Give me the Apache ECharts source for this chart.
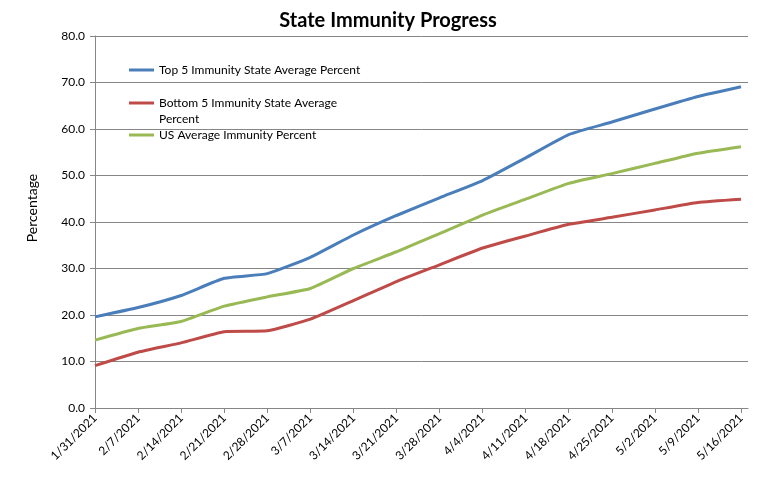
<!DOCTYPE html>
<html>
<head>
<meta charset="utf-8">
<script src="https://cdn.jsdelivr.net/npm/echarts@6/dist/echarts.min.js"></script>
<style>
html,body{margin:0;padding:0;background:#fff;}
#chart{width:770px;height:479px;}
</style>
</head>
<body>
<div id="chart"></div>
<script>
var categories = ['1/31/2021','2/7/2021','2/14/2021','2/21/2021','2/28/2021','3/7/2021','3/14/2021','3/21/2021','3/28/2021','4/4/2021','4/11/2021','4/18/2021','4/25/2021','5/2/2021','5/9/2021','5/16/2021'];
var top5 = [19.6, 21.6, 24.2, 27.9, 28.9, 32.4, 37.2, 41.4, 45.2, 48.9, 53.8, 58.8, 61.5, 64.3, 67.0, 69.1];
var bottom5 = [9.1, 12.0, 14.0, 16.4, 16.6, 19.1, 23.1, 27.2, 30.8, 34.4, 37.0, 39.5, 41.0, 42.6, 44.2, 44.9];
var usAvg = [14.6, 17.1, 18.6, 21.9, 23.9, 25.7, 30.0, 33.6, 37.5, 41.5, 44.9, 48.3, 50.4, 52.6, 54.8, 56.2];
var seriesNames = ['Top 5 Immunity State Average Percent', 'Bottom 5 Immunity State Average Percent', 'US Average Immunity Percent'];

var FONT = 'Lato';
var AXIS_COLOR = '#868686';
var chart = echarts.init(document.getElementById('chart'));
function mkLegend(name, top) {
  return {
    data: [name], left: 129, top: top, orient: 'vertical',
    itemWidth: 25, itemHeight: 3, icon: 'rect',
    textStyle: {fontFamily: FONT, fontSize: 12, color: '#000', lineHeight: 16},
    padding: 0
  };
}
var legend2 = mkLegend(seriesNames[1], 95);
legend2.itemHeight = 32;
legend2.icon = 'path://M0,6.5H25V9.5H0Z M0,0 M25,32';
legend2.formatter = function () { return 'Bottom 5 Immunity State Average\nPercent'; };

chart.setOption({
  animation: false,
  title: {
    text: 'State Immunity Progress', left: 383, top: 6, textAlign: 'center',
    textStyle: {fontFamily: FONT, fontSize: 20, fontWeight: 'bold', color: '#000'}
  },
  legend: [mkLegend(seriesNames[0], 62), legend2, mkLegend(seriesNames[2], 127)],
  grid: [
    {left: 95, right: 29, top: 36, bottom: 71, containLabel: false},
    {left: 95, right: 22, top: 36, bottom: 71, containLabel: false}
  ],
  xAxis: [
    {
      gridIndex: 0, type: 'category', data: categories, boundaryGap: false,
      axisLine: {show: false},
      axisTick: {show: true, length: 5, lineStyle: {color: AXIS_COLOR}, alignWithLabel: true},
      axisLabel: {rotate: 45, fontFamily: FONT, fontSize: 12, color: '#000', margin: 8, interval: 0},
      splitLine: {show: false}
    },
    {
      gridIndex: 1, type: 'value', min: 0, max: 1,
      axisLine: {show: true, lineStyle: {color: AXIS_COLOR, width: 1}},
      axisTick: {show: false}, axisLabel: {show: false}, splitLine: {show: false}
    }
  ],
  yAxis: [
    {
      gridIndex: 0, type: 'value', min: 0, max: 80, interval: 10,
      name: 'Percentage', nameLocation: 'middle', nameGap: 56, nameRotate: 90,
      nameTextStyle: {fontFamily: FONT, fontSize: 14, color: '#000', padding: [0, 0, 0, 28]},
      axisLine: {show: true, lineStyle: {color: AXIS_COLOR, width: 1}},
      axisTick: {show: true, length: 5, inside: false, lineStyle: {color: AXIS_COLOR}},
      axisLabel: {fontFamily: FONT, fontSize: 12, color: '#000', margin: 10,
        formatter: function (v) { return v.toFixed(1); }},
      splitLine: {show: false}
    },
    {
      gridIndex: 1, type: 'value', min: 0, max: 80, interval: 10,
      axisLine: {show: false}, axisTick: {show: false}, axisLabel: {show: false},
      splitLine: {show: true, lineStyle: {color: AXIS_COLOR, width: 1}}
    }
  ],
  series: [
    {name: seriesNames[0], type: 'line', data: top5, symbol: 'none', smooth: 0.15, z: 3,
      lineStyle: {color: '#4a7ebb', width: 3}, itemStyle: {color: '#4a7ebb'}},
    {name: seriesNames[1], type: 'line', data: bottom5, symbol: 'none', smooth: 0.15, z: 3,
      lineStyle: {color: '#be4b48', width: 3}, itemStyle: {color: '#be4b48'}},
    {name: seriesNames[2], type: 'line', data: usAvg, symbol: 'none', smooth: 0.15, z: 3,
      lineStyle: {color: '#98b954', width: 3}, itemStyle: {color: '#98b954'}}
  ]
});
</script>
</body>
</html>
